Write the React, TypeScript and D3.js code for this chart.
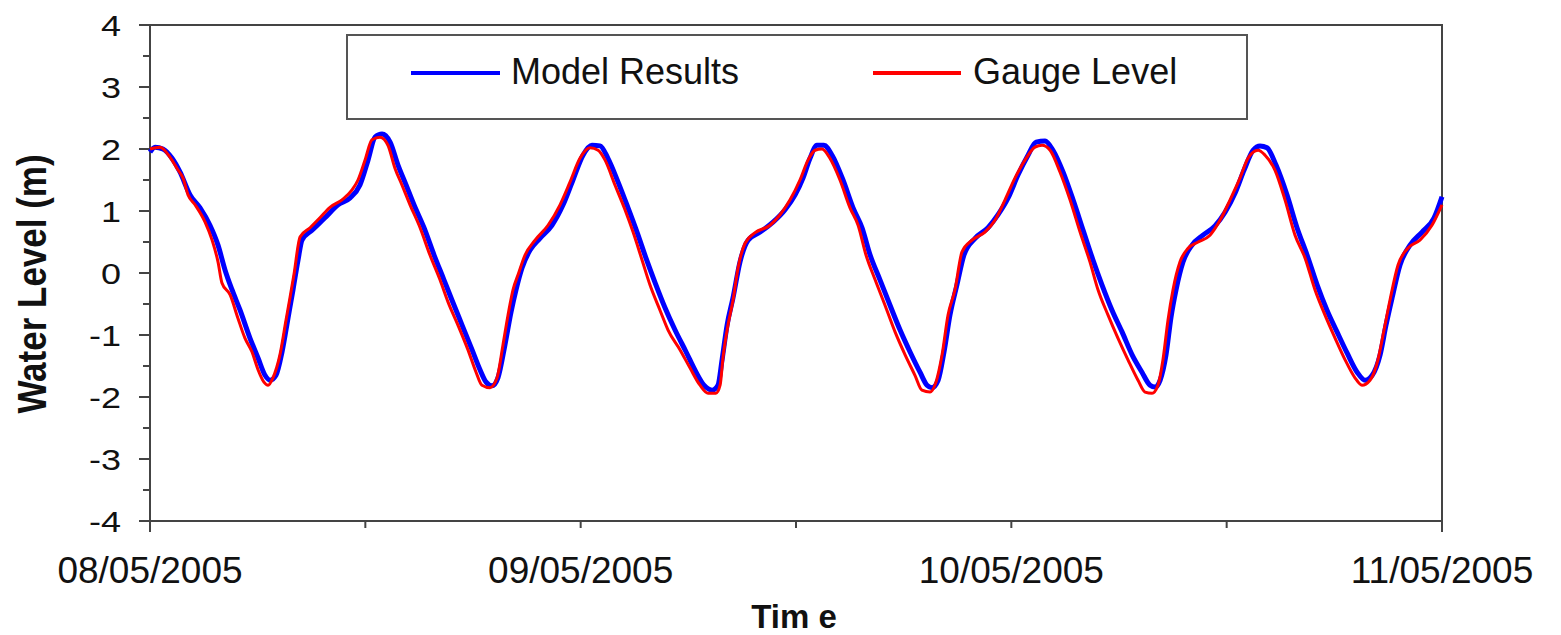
import * as d3 from "d3";

// hours after 08/05/2005 00:00 and water level (m)
const gaugeHours = [
  0, 0.56, 1.11, 1.56, 1.84, 2.12, 2.51, 3.07, 3.46, 3.79, 4.01, 4.46, 4.9, 5.29, 5.68, 6.02, 6.35, 6.58,
  6.85, 7.24, 7.58, 7.8, 8.02, 8.36, 8.92, 9.47, 10.03, 10.7, 11.26, 11.59, 11.98, 12.37, 12.82, 13.26,
  13.65, 14.04, 14.49, 15.05, 15.6, 16.16, 16.61, 17.16, 17.72, 18.17, 18.5, 18.95, 19.34, 19.67, 19.95,
  20.23, 20.51, 20.9, 21.46, 22.18, 22.85, 23.41, 23.96, 24.52, 24.97, 25.36, 25.91, 26.47, 26.92, 27.42,
  27.86, 28.42, 28.87, 29.54, 30.09, 30.65, 31.1, 31.54, 31.77, 31.93, 32.21, 32.49, 32.77, 33.16, 33.72,
  34.55, 35.11, 35.67, 36.22, 36.67, 37.06, 37.45, 37.89, 38.45, 39.01, 39.46, 39.9, 40.41, 40.96, 41.52,
  42.08, 42.63, 43.02, 43.47, 43.8, 44.14, 44.47, 44.86, 45.25, 45.81, 46.53, 47.09, 47.65, 48.2, 48.76,
  49.32, 49.71, 50.16, 50.71, 51.27, 51.83, 52.38, 52.83, 53.39, 53.94, 54.5, 55.06, 55.45, 55.84, 56.17,
  56.45, 56.73, 57.01, 57.4, 57.85, 58.41, 59.07, 59.63, 60.19, 60.74, 61.19, 61.75, 62.14, 62.69, 63.25,
  63.81, 64.37, 64.92, 65.48, 66.04, 66.6, 67.15, 67.54, 67.99, 68.43, 68.77, 69.1, 69.55, 70.1, 70.77,
  71.44, 72,
];
const gaugeLevel = [
  2.0, 2.03, 1.87, 1.66, 1.53, 1.26, 1.1, 0.82, 0.53, 0.18, -0.16, -0.35, -0.73, -1.05, -1.27, -1.56, -1.76,
  -1.81, -1.69, -1.32, -0.76, -0.4, -0.03, 0.58, 0.73, 0.89, 1.06, 1.18, 1.34, 1.5, 1.82, 2.15, 2.19, 2.06,
  1.69, 1.42, 1.1, 0.73, 0.29, -0.11, -0.47, -0.84, -1.24, -1.6, -1.81, -1.85, -1.69, -1.16, -0.68, -0.27,
  -0.03, 0.29, 0.53, 0.77, 1.1, 1.47, 1.85, 2.02, 1.98, 1.82, 1.42, 1.02, 0.66, 0.21, -0.19, -0.6, -0.92,
  -1.24, -1.53, -1.81, -1.94, -1.94, -1.81, -1.37, -0.84, -0.44, 0.08, 0.48, 0.65, 0.77, 0.94, 1.18, 1.5,
  1.82, 1.98, 2.0, 1.85, 1.5, 1.05, 0.77, 0.29, -0.11, -0.52, -0.95, -1.32, -1.65, -1.89, -1.92, -1.76,
  -1.32, -0.68, -0.27, 0.34, 0.53, 0.66, 0.85, 1.18, 1.53, 1.82, 2.03, 2.06, 1.98, 1.63, 1.18, 0.66, 0.18,
  -0.27, -0.68, -1.05, -1.4, -1.73, -1.92, -1.94, -1.81, -1.4, -0.76, -0.27, 0.18, 0.4, 0.5, 0.61, 0.85,
  1.18, 1.53, 1.85, 1.98, 1.9, 1.66, 1.18, 0.61, 0.24, -0.27, -0.68, -1.05, -1.4, -1.69, -1.81, -1.73,
  -1.4, -0.92, -0.44, 0.13, 0.4, 0.53, 0.77, 1.1,
];

const modelHours = [
  0, 0.28, 0.72, 1.23, 1.67, 2.23, 2.79, 3.34, 3.79, 4.18, 4.57, 5.02, 5.57, 6.02, 6.41, 6.69, 7.02, 7.36,
  7.69, 7.97, 8.25, 8.47, 9.03, 9.75, 10.48, 11.15, 11.7, 12.15, 12.54, 12.93, 13.38, 13.82, 14.27, 14.71,
  15.27, 15.83, 16.38, 16.83, 17.39, 17.95, 18.39, 18.73, 19.06, 19.39, 19.78, 20.12, 20.4, 20.73, 21.18,
  21.73, 22.4, 23.02, 23.57, 24.13, 24.63, 25.08, 25.52, 26.08, 26.64, 27.14, 27.64, 28.14, 28.7, 29.26,
  29.87, 30.43, 30.87, 31.32, 31.65, 31.88, 32.16, 32.49, 32.88, 33.33, 34.0, 34.72, 35.39, 35.95, 36.39,
  36.78, 37.17, 37.56, 38.01, 38.62, 39.18, 39.68, 40.13, 40.68, 41.24, 41.8, 42.35, 42.91, 43.3, 43.58,
  43.92, 44.25, 44.58, 44.97, 45.36, 45.98, 46.7, 47.26, 47.82, 48.37, 48.93, 49.38, 49.88, 50.32, 50.88,
  51.44, 52.0, 52.55, 53.05, 53.61, 54.17, 54.73, 55.28, 55.73, 56.01, 56.29, 56.62, 56.9, 57.18, 57.57,
  58.07, 58.68, 59.35, 59.91, 60.47, 60.97, 61.47, 61.86, 62.25, 62.75, 63.36, 63.92, 64.48, 65.04, 65.59,
  66.15, 66.71, 67.27, 67.72, 68.11, 68.55, 68.88, 69.22, 69.66, 70.22, 70.89, 71.56, 72,
];
const modelLevel = [
  1.95, 2.03, 2.0, 1.85, 1.63, 1.26, 1.05, 0.77, 0.45, 0.05, -0.27, -0.6, -1.05, -1.37, -1.65, -1.73, -1.65,
  -1.27, -0.73, -0.27, 0.21, 0.53, 0.69, 0.89, 1.1, 1.21, 1.42, 1.82, 2.19, 2.24, 2.11, 1.74, 1.42, 1.1,
  0.73, 0.29, -0.11, -0.44, -0.84, -1.24, -1.56, -1.76, -1.82, -1.69, -1.16, -0.63, -0.27, 0.08, 0.37, 0.56,
  0.77, 1.1, 1.5, 1.9, 2.06, 2.05, 1.85, 1.47, 1.05, 0.66, 0.24, -0.15, -0.56, -0.92, -1.27, -1.6, -1.81,
  -1.89, -1.81, -1.4, -0.84, -0.4, 0.18, 0.53, 0.66, 0.82, 1.02, 1.26, 1.53, 1.85, 2.06, 2.06, 1.9, 1.5,
  1.05, 0.73, 0.29, -0.11, -0.52, -0.92, -1.27, -1.6, -1.81, -1.85, -1.73, -1.27, -0.68, -0.19, 0.29, 0.56,
  0.73, 0.94, 1.21, 1.58, 1.9, 2.11, 2.13, 1.98, 1.63, 1.18, 0.69, 0.21, -0.19, -0.6, -0.95, -1.32, -1.6,
  -1.81, -1.84, -1.73, -1.32, -0.71, -0.27, 0.18, 0.45, 0.61, 0.76, 0.98, 1.29, 1.66, 1.98, 2.05, 2.02,
  1.74, 1.26, 0.73, 0.29, -0.19, -0.6, -0.95, -1.29, -1.6, -1.73, -1.65, -1.32, -0.84, -0.4, 0.13, 0.45,
  0.66, 0.89, 1.23,
];

const yTicks = [-4, -3, -2, -1, 0, 1, 2, 3, 4];
const dayLabels = ["08/05/2005", "09/05/2005", "10/05/2005", "11/05/2005"];
const seriesNames = ["Model Results", "Gauge Level"];

const width = 1561;
const height = 635;
const marginLeft = 150;
const marginRight = 119;
const marginTop = 25;
const marginBottom = 114;

const font = "'Liberation Sans', Arial, sans-serif";
const axisColor = "#444";

const start = new Date(Date.UTC(2005, 4, 8));
const toDate = (h: number) => new Date(start.getTime() + h * 3600 * 1000);

export default function App() {
  const x = d3
    .scaleUtc()
    .domain([start, toDate(72)])
    .range([marginLeft, width - marginRight]);
  const y = d3
    .scaleLinear()
    .domain([-4, 4])
    .range([height - marginBottom, marginTop]);

  const line = d3
    .line<[number, number]>()
    .x((d) => x(toDate(d[0])))
    .y((d) => y(d[1]))
    .curve(d3.curveMonotoneX);

  const gauge = gaugeHours.map((h, i) => [h, gaugeLevel[i]] as [number, number]);
  const model = modelHours.map((h, i) => [h, modelLevel[i]] as [number, number]);

  const x0 = marginLeft;
  const x1 = width - marginRight;
  const yb = height - marginBottom;
  const halfDays = d3.range(0, 73, 12);
  const minorY = d3.range(-3.5, 4, 1);

  return (
    <svg
      width={width}
      height={height}
      style={{ position: "absolute", left: 0, top: 0, background: "#fff" }}
      fontFamily={font}
    >
      {/* frame */}
      <path
        d={`M${x0},${marginTop}H${x1}V${yb}`}
        fill="none"
        stroke={axisColor}
        strokeWidth={2}
      />
      <line x1={x0} x2={x1} y1={yb} y2={yb} stroke={axisColor} strokeWidth={2} />
      <line x1={x0} x2={x0} y1={marginTop} y2={yb} stroke={axisColor} strokeWidth={2} />

      {/* y ticks */}
      {yTicks.map((t) => (
        <g key={t}>
          <line x1={x0 - 11} x2={x0} y1={y(t)} y2={y(t)} stroke={axisColor} strokeWidth={2} />
          <text
            transform={`translate(121,${y(t)}) scale(1.2,1)`}
            dy="0.36em"
            textAnchor="end"
            fontSize={30}
            fill="#111"
          >
            {t}
          </text>
        </g>
      ))}
      {minorY.map((t) => (
        <line key={t} x1={x0 - 7} x2={x0} y1={y(t)} y2={y(t)} stroke={axisColor} strokeWidth={2} />
      ))}

      {/* x ticks */}
      {halfDays.map((h) => (
        <line
          key={h}
          x1={x(toDate(h))}
          x2={x(toDate(h))}
          y1={yb}
          y2={yb + (h === 0 || h === 72 ? 11 : 7)}
          stroke={axisColor}
          strokeWidth={2}
        />
      ))}
      {dayLabels.map((lbl, i) => (
        <text
          key={lbl}
          x={x(toDate(i * 24))}
          y={583}
          textAnchor="middle"
          fontSize={37}
          fill="#111"
        >
          {lbl}
        </text>
      ))}

      {/* axis titles */}
      <text
        transform={`translate(46,${284}) rotate(-90) scale(1,1.15)`}
        textAnchor="middle"
        fontSize={35}
        fontWeight="bold"
        fill="#111"
      >
        Water Level (m)
      </text>
      <text x={794} y={628} textAnchor="middle" fontSize={33} fontWeight="bold" fill="#111">
        Tim e
      </text>

      {/* series */}
      <path d={line(model) ?? ""} fill="none" stroke="#0000ff" strokeWidth={5} />
      <path d={line(gauge) ?? ""} fill="none" stroke="#ff0000" strokeWidth={3} strokeLinejoin="round" />

      {/* legend */}
      <rect x={347} y={35} width={900} height={84} fill="#fff" stroke="#555" strokeWidth={2} />
      <line x1={411} x2={500} y1={73} y2={73} stroke="#0000ff" strokeWidth={4} />
      <text x={511} y={84} fontSize={36} fill="#111">
        {seriesNames[0]}
      </text>
      <line x1={873} x2={961} y1={73} y2={73} stroke="#ff0000" strokeWidth={4} />
      <text x={973} y={84} fontSize={36} fill="#111">
        {seriesNames[1]}
      </text>
    </svg>
  );
}
